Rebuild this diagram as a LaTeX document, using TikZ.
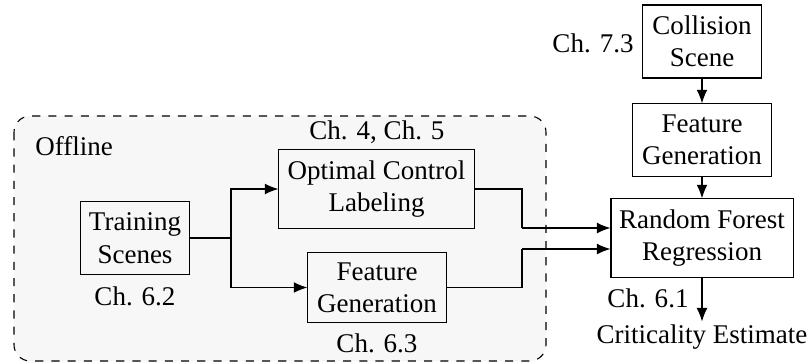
\documentclass[tikz,border=0pt]{standalone}
\usepackage{fontspec}
\setmainfont{Liberation Serif}
\usetikzlibrary{arrows.meta}
\tikzset{
  block/.style={draw, align=center, inner sep=2pt},
  note/.style={align=center, inner sep=1pt},
  flow/.style={-{Latex[length=5pt,width=4pt]}}
}
\begin{document}
\begin{tikzpicture}[x=0.01302cm, y=-0.01302cm]%pipeline
\useasboundingbox (0,0) rectangle (809,363);
% offline part
\draw[dashed, rounded corners=6pt, fill=black!3] (14,116) rectangle (546,361);
\node[note] (offline) at (74,146) {Offline};
\node[block, minimum width=1.43cm, minimum height=0.94cm] (train) at (135,238) {Training\\Scenes};
\node[block, minimum width=2.54cm, minimum height=1.02cm] (ocl) at (376.5,189) {Optimal Control\\Labeling};
\node[block, minimum width=1.80cm, minimum height=0.92cm] (fgoff) at (377,287.5) {Feature\\Generation};
\node[note] (chtrain) at (135,296) {Ch. 6.2};
\node[note] (chocl) at (377,132) {Ch. 4, Ch. 5};
\node[note] (chfgoff) at (377,343) {Ch. 6.3};
% online part
\node[block, minimum width=1.54cm, minimum height=0.95cm] (coll) at (702,41.5) {Collision\\Scene};
\node[block, minimum width=1.80cm, minimum height=0.94cm] (fgon) at (702,140) {Feature\\Generation};
\node[block, minimum width=2.37cm, minimum height=1.02cm] (rf) at (702,238) {Random Forest\\Regression};
\node[note] (crit) at (702,337) {Criticality Estimate};
\node[note] (chcoll) at (593,43) {Ch. 7.3};
\node[note] (chrf) at (648,298) {Ch. 6.1};
% connectors
\coordinate (split) at (231,238);
\coordinate (ja) at (522,228);
\coordinate (jb) at (522,249);
\draw (train.east) -- (split);
\draw[flow] (split) |- (ocl.west);
\draw[flow] (split) |- (fgoff.west);
\draw (ocl.east) -| (ja);
\draw[flow] (ja) -- (rf.west |- ja);
\draw (fgoff.east) -| (jb);
\draw[flow] (jb) -- (rf.west |- jb);
\draw[flow] (coll) -- (fgon);
\draw[flow] (fgon) -- (rf);
\draw[flow] (rf) -- (crit);
\end{tikzpicture}
\end{document}
